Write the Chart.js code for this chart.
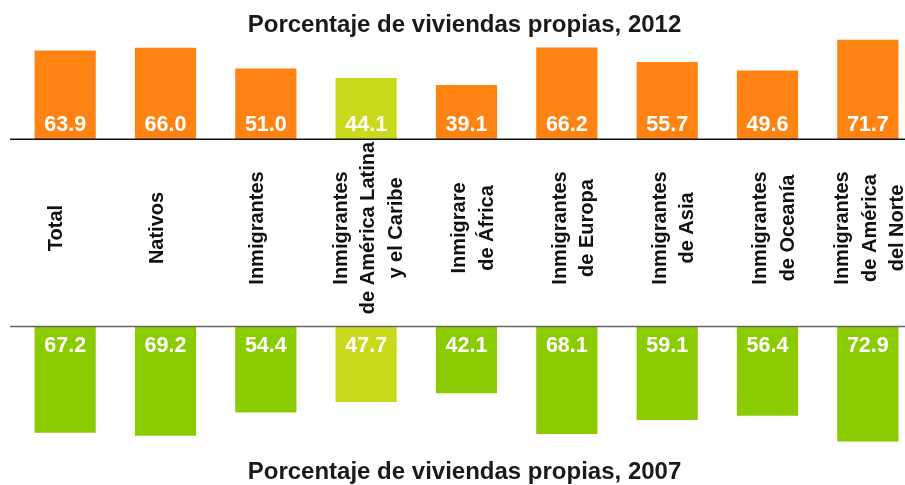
<!DOCTYPE html>
<html>
<head>
<meta charset="utf-8">
<script src="https://cdn.jsdelivr.net/npm/chart.js@4.4.1/dist/chart.umd.min.js"></script>
<style>
  html, body { margin: 0; padding: 0; background: #fff; overflow: hidden; }
  #wrap { width: 930px; height: 485px; }
</style>
</head>
<body>
<div id="wrap"><canvas id="chart" width="930" height="485"></canvas></div>
<script>
const categories = [
  ['Total'],
  ['Nativos'],
  ['Inmigrantes'],
  ['Inmigrantes', 'de América Latina', 'y el Caribe'],
  ['Inmigrare', 'de África'],
  ['Inmigrantes', 'de Europa'],
  ['Inmigrantes', 'de Asia'],
  ['Inmigrantes', 'de Oceanía'],
  ['Inmigrantes', 'de América', 'del Norte']
];
const values2012 = [63.9, 66.0, 51.0, 44.1, 39.1, 66.2, 55.7, 49.6, 71.7];
const values2007 = [67.2, 69.2, 54.4, 47.7, 42.1, 68.1, 59.1, 56.4, 72.9];
const title2012 = 'Porcentaje de viviendas propias, 2012';
const title2007 = 'Porcentaje de viviendas propias, 2007';

const highlightIndex = 3;
const orange = '#fe8312';
const green = '#8bcb01';
const lime = '#c9da1d';

const topColors = values2012.map((v, i) => i === highlightIndex ? lime : orange);
const bottomColors = values2007.map((v, i) => i === highlightIndex ? lime : green);

// label block shift by number of lines, to sit like the original
const labelShift = { 1: -8.5, 2: 7, 3: 2.5 };

const textPlugin = {
  id: 'textPlugin',
  afterDatasetsDraw(chart) {
    const ctx = chart.ctx;
    const yTop = chart.scales.yTop;
    const yBottom = chart.scales.yBottom;
    const baseTop = yTop.getPixelForValue(0);
    const baseBottom = yBottom.getPixelForValue(0);

    ctx.save();
    // baselines
    ctx.lineWidth = 1.5;
    ctx.strokeStyle = '#111';
    ctx.beginPath();
    ctx.moveTo(10, baseTop + 0.25);
    ctx.lineTo(chart.width, baseTop + 0.25);
    ctx.stroke();
    ctx.strokeStyle = '#666';
    ctx.beginPath();
    ctx.moveTo(10, baseBottom - 0.5);
    ctx.lineTo(chart.width, baseBottom - 0.5);
    ctx.stroke();

    // values inside bars
    ctx.fillStyle = '#fff';
    ctx.font = 'bold 21.5px "Liberation Sans", Arial, sans-serif';
    ctx.textAlign = 'center';
    ctx.textBaseline = 'alphabetic';
    chart.getDatasetMeta(0).data.forEach((bar, i) => {
      ctx.fillText(values2012[i].toFixed(1), bar.x, baseTop - 8);
    });
    chart.getDatasetMeta(1).data.forEach((bar, i) => {
      ctx.fillText(values2007[i].toFixed(1), bar.x, baseBottom + 25);
    });

    // category labels, rotated
    ctx.fillStyle = '#111';
    ctx.font = 'bold 20px "Liberation Sans", Arial, sans-serif';
    ctx.textBaseline = 'middle';
    const midY = 228;
    const lineGap = 27.5;
    chart.getDatasetMeta(0).data.forEach((bar, i) => {
      const lines = categories[i];
      const cx = bar.x + labelShift[lines.length];
      lines.forEach((line, j) => {
        const x = cx + (j - (lines.length - 1) / 2) * lineGap;
        ctx.save();
        ctx.translate(x, midY);
        ctx.rotate(-Math.PI / 2);
        ctx.fillText(line, 0, 0);
        ctx.restore();
      });
    });

    // titles
    ctx.fillStyle = '#1a1a1a';
    ctx.font = 'bold 24px "Liberation Sans", Arial, sans-serif';
    ctx.textBaseline = 'alphabetic';
    ctx.fillText(title2012, 464.5, 32);
    ctx.fillText(title2007, 464.5, 479);
    ctx.restore();
  }
};

new Chart(document.getElementById('chart'), {
  type: 'bar',
  data: {
    labels: categories,
    datasets: [
      { label: '2012', data: values2012, backgroundColor: topColors, yAxisID: 'yTop' },
      { label: '2007', data: values2007, backgroundColor: bottomColors, yAxisID: 'yBottom' }
    ]
  },
  options: {
    responsive: false,
    animation: false,
    layout: { padding: { left: 15, right: 12, top: 0, bottom: 0 } },
    datasets: { bar: { grouped: false, barPercentage: 0.61, categoryPercentage: 1, borderWidth: 0 } },
    plugins: { legend: { display: false }, tooltip: { enabled: false } },
    scales: {
      x: { display: false, offset: true },
      yTop: { display: false, min: -250.2, max: 100.5 },
      yBottom: { display: false, reverse: true, min: -208, max: 100.5 }
    }
  },
  plugins: [textPlugin]
});
</script>
</body>
</html>
